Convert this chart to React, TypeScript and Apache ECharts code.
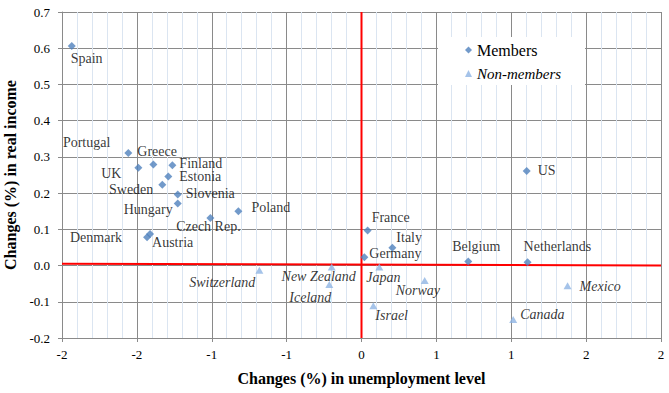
import React, { useEffect, useRef } from "react";
import * as echarts from "echarts";

// ---- data ----
const memberNames = [
  "Spain", "Portugal", "Greece", "UK", "Finland", "Estonia", "Sweden", "Slovenia",
  "Hungary", "Czech Rep.", "Poland", "Denmark", "Austria", "France", "Italy",
  "Germany", "Belgium", "Netherlands", "US",
];
const memberX = [
  -1.935, -1.557, -1.39, -1.49, -1.263, -1.29, -1.33, -1.227,
  -1.227, -1.009, -0.822, -1.432, -1.412, 0.041, 0.206,
  0.019, 0.713, 1.109, 1.103,
];
const memberY = [
  0.606, 0.311, 0.279, 0.27, 0.277, 0.246, 0.223, 0.196,
  0.171, 0.131, 0.15, 0.078, 0.087, 0.097, 0.049,
  0.023, 0.011, 0.009, 0.261,
];

const nonMemberNames = [
  "Switzerland", "New Zealand", "Iceland", "Japan", "Israel", "Norway", "Canada", "Mexico",
];
const nonMemberX = [-0.682, -0.199, -0.215, 0.119, 0.079, 0.422, 1.013, 1.376];
const nonMemberY = [-0.013, -0.004, -0.052, -0.004, -0.111, -0.041, -0.149, -0.056];

const xTicks = [-2, -1.5, -1, -0.5, 0, 0.5, 1, 1.5, 2];
const xTickLabels = ["-2", "-2", "-1", "-1", "0", "1", "1", "2", "2"];
const yTicks = [-0.2, -0.1, 0, 0.1, 0.2, 0.3, 0.4, 0.5, 0.6, 0.7];
const yTickLabels = ["-0.2", "-0.1", "0.0", "0.1", "0.2", "0.3", "0.4", "0.5", "0.6", "0.7"];

const refLineH = [[-2, 0.005], [2, 0]];
const refLineV = [[0, -0.2], [0, 0.7]];

// ---- label layout (align, dx, dy) ----
const labelLayout: Record<string, [string, number, number]> = {
  Spain: ["left", -1, 12],
  Portugal: ["right", -18, -10],
  Greece: ["left", -16, -13],
  UK: ["right", -17, 6],
  Finland: ["left", 7, -2],
  Estonia: ["left", 11, 0],
  Sweden: ["right", -9, 5],
  Slovenia: ["left", 8, -1],
  Hungary: ["right", -5, 6],
  "Czech Rep.": ["center", -2, 8],
  Poland: ["left", 13, -4],
  Denmark: ["right", -25, 0],
  Austria: ["left", 2, 8],
  France: ["left", 4, -13],
  Italy: ["left", 4, -10],
  Germany: ["left", 5, -4],
  Belgium: ["center", 8, -15],
  Netherlands: ["left", -4, -16],
  US: ["left", 11, -1],
  Switzerland: ["right", -4, 12],
  "New Zealand": ["center", -13, 9],
  Iceland: ["right", 2, 13],
  Japan: ["left", -13, 10],
  Israel: ["left", 2, 10],
  Norway: ["left", -29, 10],
  Canada: ["left", 7, -5],
  Mexico: ["left", 12, 1],
};

const FONT = "'Liberation Serif', 'Times New Roman', serif";
const GRID_COLOR = "#8a8a8a";
const MINOR_COLOR = "#dbe5f1";

function buildPoints(names: string[], xs: number[], ys: number[]) {
  return names.map((n, i) => {
    const l = labelLayout[n] || ["left", 6, 0];
    return {
      name: n,
      value: [xs[i], ys[i]],
      label: { align: l[0], offset: [l[1], l[2]] },
    };
  });
}

function tickLabel(ticks: number[], labels: string[]) {
  return (v: number) => {
    const i = ticks.findIndex((t) => Math.abs(t - v) < 1e-6);
    return i >= 0 ? labels[i] : "";
  };
}

export default function App() {
  const ref = useRef<HTMLDivElement>(null);
  useEffect(() => {
    document.body.style.margin = "0";
    const chart = echarts.init(ref.current!, null, { renderer: "svg" });
    const option: any = {
      animation: false,
      backgroundColor: "#ffffff",
      textStyle: { fontFamily: FONT },
      grid: {
        left: 62,
        right: 8,
        top: 12,
        bottom: 55,
        containLabel: false,
        outerBoundsMode: "none",
      },
      xAxis: {
        type: "value",
        min: -2,
        max: 2,
        interval: 0.5,
        name: "Changes (%) in unemployment level",
        nameLocation: "middle",
        nameGap: 32,
        nameTextStyle: { fontFamily: FONT, fontSize: 16, fontWeight: "bold", color: "#000" },
        axisLine: { show: true, onZero: false, lineStyle: { color: GRID_COLOR, width: 1 } },
        axisTick: { show: true, inside: false, length: 4, lineStyle: { color: GRID_COLOR } },
        axisLabel: {
          margin: 10,
          fontFamily: FONT,
          fontSize: 13,
          color: "#000",
          formatter: tickLabel(xTicks, xTickLabels),
        },
        splitLine: { show: true, lineStyle: { color: GRID_COLOR, width: 1 } },
        minorTick: { show: false, splitNumber: 5 },
        minorSplitLine: { show: true, lineStyle: { color: MINOR_COLOR, width: 1 } },
      },
      yAxis: {
        type: "value",
        min: -0.2,
        max: 0.7,
        interval: 0.1,
        name: "Changes (%) in real income",
        nameLocation: "middle",
        nameGap: 44,
        nameRotate: 90,
        nameTextStyle: { fontFamily: FONT, fontSize: 16, fontWeight: "bold", color: "#000" },
        axisLine: { show: true, onZero: false, lineStyle: { color: GRID_COLOR, width: 1 } },
        axisTick: { show: true, inside: false, length: 4, lineStyle: { color: GRID_COLOR } },
        axisLabel: {
          margin: 12,
          fontFamily: FONT,
          fontSize: 13,
          color: "#000",
          formatter: tickLabel(yTicks, yTickLabels),
        },
        splitLine: { show: true, lineStyle: { color: GRID_COLOR, width: 1 } },
      },
      legend: {
        orient: "vertical",
        left: 465,
        top: 42,
        padding: 0,
        itemWidth: 7,
        itemHeight: 7,
        itemGap: 8,
        textStyle: { fontFamily: FONT, fontSize: 16, color: "#000" },
        data: [
          { name: "Members", icon: "diamond" },
          {
            name: "Non-members",
            icon: "triangle",
            textStyle: { fontStyle: "italic", fontSize: 15 },
          },
        ],
      },
      graphic: [
        {
          type: "rect",
          z: 3,
          shape: { x: 438, y: 37, width: 147, height: 48 },
          style: { fill: "#ffffff" },
          silent: true,
        },
      ],
      series: [
        {
          type: "line",
          data: refLineH,
          symbol: "none",
          z: 1,
          lineStyle: { color: "#ff0000", width: 2 },
          silent: true,
        },
        {
          type: "line",
          data: refLineV,
          symbol: "none",
          z: 1,
          lineStyle: { color: "#ff0000", width: 2 },
          silent: true,
        },
        {
          name: "Members",
          type: "scatter",
          symbol: "diamond",
          symbolSize: 8,
          z: 5,
          itemStyle: { color: "#4f81bd" },
          label: {
            show: true,
            formatter: "{b}",
            position: "inside",
            verticalAlign: "middle",
            fontFamily: FONT,
            fontSize: 14,
            color: "#000",
          },
          data: buildPoints(memberNames, memberX, memberY),
        },
        {
          name: "Non-members",
          type: "scatter",
          symbol: "triangle",
          symbolSize: [8, 7],
          z: 5,
          itemStyle: { color: "#8eb4e3" },
          label: {
            show: true,
            formatter: "{b}",
            position: "inside",
            verticalAlign: "middle",
            fontFamily: FONT,
            fontSize: 14,
            fontStyle: "italic",
            color: "#000",
          },
          data: buildPoints(nonMemberNames, nonMemberX, nonMemberY),
        },
      ],
    };
    chart.setOption(option);
    return () => chart.dispose();
  }, []);
  return <div ref={ref} style={{ width: 669, height: 393 }} />;
}
